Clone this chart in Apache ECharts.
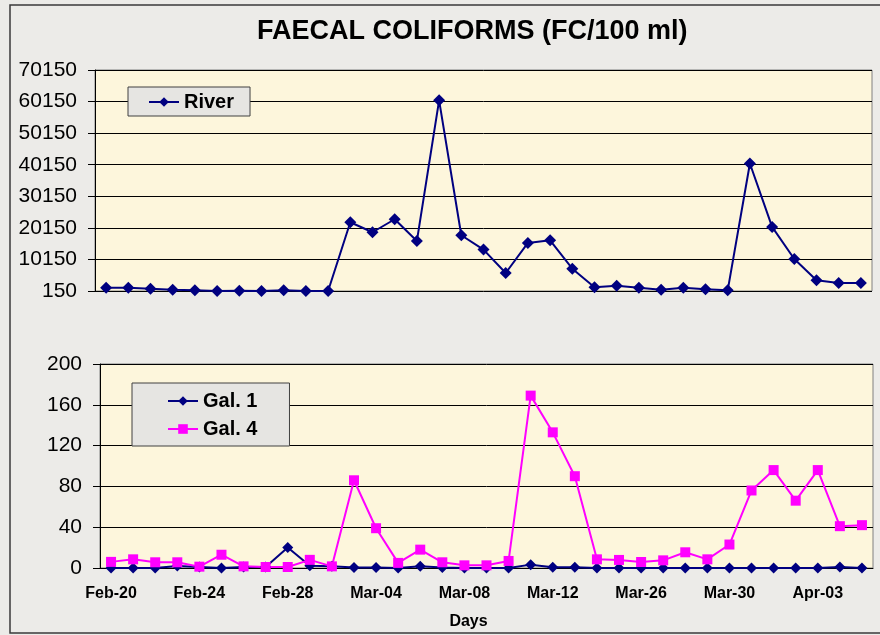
<!DOCTYPE html>
<html>
<head>
<meta charset="utf-8">
<title>Faecal coliforms</title>
<script src="https://cdn.jsdelivr.net/npm/echarts@6/dist/echarts.min.js"></script>
<style>
  html, body { margin: 0; padding: 0; background: #ecebe8; }
  #chartDiv { width: 880px; height: 635px; }
</style>
</head>
<body>
<div id="chartDiv"></div>
<script>
// 日期（Mar-12 和 Mar-26 之间有间隔）
var days = ['Feb-20', 'Feb-21', 'Feb-22', 'Feb-23', 'Feb-24', 'Feb-25', 'Feb-26', 'Feb-27',
    'Feb-28', 'Mar-01', 'Mar-02', 'Mar-03', 'Mar-04', 'Mar-05', 'Mar-06', 'Mar-07',
    'Mar-08', 'Mar-09', 'Mar-10', 'Mar-11', 'Mar-12', 'Mar-13', 'Mar-14', 'Mar-25',
    'Mar-26', 'Mar-27', 'Mar-28', 'Mar-29', 'Mar-30', 'Mar-31', 'Apr-01', 'Apr-02',
    'Apr-03', 'Apr-04', 'Apr-05'];

var river = [1200, 1200, 890, 570, 360, 150, 250, 150, 360, 150, 150, 21930, 18760, 22880,
    16010, 60530, 17810, 13260, 5860, 15380, 16220, 7230, 1310, 1840, 1200, 570, 1200, 680,
    360, 40540, 20450, 10300, 3530, 2690, 2690];

var gal1 = [0, 0, 0, 2, 1, 0, 1, 1, 20, 2.3, 1.6, 0.5, 0.5, 0, 1.6, 0.5, 0, 0, 0, 3.3, 0.7,
    0.7, 0, 0, 0, 0, 0, 0, 0, 0, 0, 0, 0, 1, 0];

var gal4 = [6, 8.5, 5.6, 5.6, 1.3, 13, 1.6, 1, 1, 8, 1.6, 86, 39, 5, 18, 5.6, 2.6, 2.6, 6.9,
    169, 133, 90, 8.5, 7.9, 5.9, 7.5, 15.4, 8.5, 23, 76, 96, 66, 96, 41, 42];

var riverTicks = [150, 10150, 20150, 30150, 40150, 50150, 60150, 70150];

var chart;

(function () {
    chart = echarts.init(document.getElementById('chartDiv'));

    var labelFont = { fontFamily: 'Liberation Sans', fontSize: 21, color: '#000' };
    var legendText = { fontFamily: 'Liberation Sans', fontSize: 20, fontWeight: 'bold', color: '#000' };
    var plain = function (v) { return String(v); };

    var option = {
        backgroundColor: '#ecebe8',
        animation: false,
        graphic: [
            {
                type: 'rect',
                shape: { x: 10, y: 5, width: 880, height: 628 },
                style: { fill: 'none', stroke: '#3a3a3a', lineWidth: 1.5 },
                silent: true
            },
            {
                type: 'text',
                left: 475 - 218,
                top: 18,
                style: {
                    text: 'FAECAL COLIFORMS (FC/100 ml)',
                    fontFamily: 'Liberation Sans',
                    fontSize: 27,
                    fontWeight: 'bold',
                    fill: '#000'
                }
            }
        ],
        legend: [
            {
                data: ['River'],
                left: 128,
                top: 87,
                itemWidth: 30,
                itemHeight: 12,
                padding: [5, 16, 4, 20],
                backgroundColor: '#e6e5e2',
                borderColor: '#404040',
                borderWidth: 1,
                textStyle: legendText
            },
            {
                data: ['Gal. 1', 'Gal. 4'],
                orient: 'vertical',
                left: 132,
                top: 383,
                itemWidth: 30,
                itemHeight: 12,
                itemGap: 8,
                padding: [8, 32, 7, 35],
                backgroundColor: '#e6e5e2',
                borderColor: '#404040',
                borderWidth: 1,
                textStyle: legendText
            }
        ],
        grid: [
            { left: 95, top: 70, width: 777, height: 221, show: true,
              backgroundColor: '#fdf6dc', borderColor: '#808080', borderWidth: 1 },
            { left: 100, top: 364, width: 773, height: 204, show: true,
              backgroundColor: '#fdf6dc', borderColor: '#808080', borderWidth: 1 }
        ],
        xAxis: [
            {
                type: 'category',
                gridIndex: 0,
                data: days,
                boundaryGap: true,
                axisLine: { show: false },
                axisTick: { show: false },
                axisLabel: { show: false }
            },
            {
                type: 'category',
                gridIndex: 1,
                data: days,
                boundaryGap: true,
                name: 'Days',
                nameLocation: 'middle',
                nameGap: 46,
                nameTextStyle: {
                    fontFamily: 'Liberation Sans', fontSize: 16, fontWeight: 'bold',
                    color: '#000', padding: [0, 36, 0, 0]
                },
                axisLine: { lineStyle: { color: '#000', width: 1 } },
                axisTick: { interval: 0, length: 5, lineStyle: { color: '#000' } },
                axisLabel: {
                    interval: 3, margin: 18,
                    fontFamily: 'Liberation Sans', fontSize: 16, fontWeight: 'bold', color: '#000'
                }
            }
        ],
        yAxis: [
            {
                type: 'value',
                gridIndex: 0,
                min: 150,
                max: 70150,
                axisLine: { show: true, lineStyle: { color: '#000', width: 1 } },
                axisTick: { show: true, length: 7, customValues: riverTicks, lineStyle: { color: '#000' } },
                axisLabel: Object.assign({ margin: 18, customValues: riverTicks, formatter: plain }, labelFont),
                splitLine: { show: true, lineStyle: { color: '#000', width: 1 } }
            },
            {
                type: 'value',
                gridIndex: 1,
                min: 0,
                max: 200,
                interval: 40,
                axisLine: { show: true, lineStyle: { color: '#000', width: 1 } },
                axisTick: { show: true, length: 7, lineStyle: { color: '#000' } },
                axisLabel: Object.assign({ margin: 18, formatter: plain }, labelFont),
                splitLine: { show: true, lineStyle: { color: '#000', width: 1 } }
            }
        ],
        series: [
            {
                name: 'River',
                type: 'line',
                xAxisIndex: 0,
                yAxisIndex: 0,
                data: river,
                symbol: 'diamond',
                symbolSize: 12,
                itemStyle: { color: '#000080' },
                lineStyle: { color: '#000080', width: 2 }
            },
            {
                name: 'Gal. 1',
                type: 'line',
                xAxisIndex: 1,
                yAxisIndex: 1,
                data: gal1,
                symbol: 'diamond',
                symbolSize: 11,
                itemStyle: { color: '#000080' },
                lineStyle: { color: '#000080', width: 2 }
            },
            {
                name: 'Gal. 4',
                type: 'line',
                xAxisIndex: 1,
                yAxisIndex: 1,
                data: gal4,
                symbol: 'rect',
                symbolSize: 10,
                itemStyle: { color: '#ff00ff' },
                lineStyle: { color: '#ff00ff', width: 2 }
            }
        ]
    };
    chart.setOption(option);
})();
</script>
</body>
</html>
